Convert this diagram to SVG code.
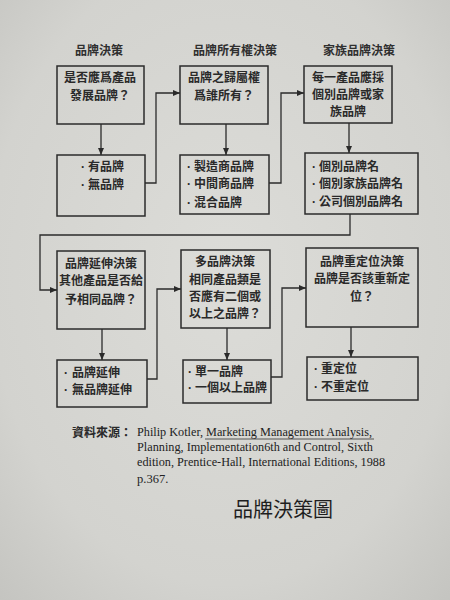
<svg xmlns="http://www.w3.org/2000/svg" width="450" height="600" viewBox="0 0 450 600">
<defs>
<marker id="arr" markerUnits="userSpaceOnUse" markerWidth="7" markerHeight="6" refX="7" refY="3" orient="auto">
<path d="M0,0 L7,3 L0,6 z" fill="#2a2a2a"/>
</marker>
<radialGradient id="bg" cx="50%" cy="45%" r="75%">
<stop offset="0" stop-color="#dcdcd8"/>
<stop offset="0.7" stop-color="#d3d3cf"/>
<stop offset="1" stop-color="#c4c4c0"/>
</radialGradient>
</defs>
<style>
.box{fill:none;stroke:#2b2b2b;stroke-width:1.5}
.cn{fill:none;stroke:#2b2b2b;stroke-width:1.3}
.t{font-family:"Noto Sans CJK TC","Noto Sans CJK SC",sans-serif;font-size:12px;font-weight:bold;fill:#2a2a2a}
.c{text-anchor:middle}
.d{font-family:"Liberation Sans",sans-serif;font-size:12px;font-weight:bold;fill:#2a2a2a}
.h{font-family:"Noto Sans CJK TC","Noto Sans CJK SC",sans-serif;font-size:12px;font-weight:bold;fill:#2f2f2f;text-anchor:middle}
.en{font-family:"Liberation Serif",serif;font-size:12.5px;fill:#222}
.src{font-family:"Noto Sans CJK TC","Noto Sans CJK SC",sans-serif;font-size:12px;font-weight:bold;fill:#2a2a2a}
.title{font-family:"Noto Sans CJK TC","Noto Sans CJK SC",sans-serif;font-size:20px;fill:#1e1e1e}
</style>
<rect x="0" y="0" width="450" height="600" fill="url(#bg)"/>

<g id="headers">
<text class="h" x="99" y="55">品牌決策</text>
<text class="h" x="235" y="55">品牌所有權決策</text>
<text class="h" x="359" y="55">家族品牌決策</text>
</g>

<g id="A1"><rect class="box" x="57" y="66" width="87" height="58"/>
<text class="t c" x="100" y="82">是否應爲產品</text>
<text class="t c" x="100" y="100">發展品牌？</text></g>
<g id="A2"><rect class="box" x="57" y="155" width="88" height="61"/>
<text class="d" x="81" y="171">·</text><text class="t" x="88" y="171">有品牌</text>
<text class="d" x="81" y="189">·</text><text class="t" x="88" y="189">無品牌</text></g>

<g id="B1"><rect class="box" x="180" y="66" width="88" height="58"/>
<text class="t c" x="224" y="82">品牌之歸屬權</text>
<text class="t c" x="224" y="100">爲誰所有？</text></g>
<g id="B2"><rect class="box" x="180" y="155" width="89" height="59"/>
<text class="d" x="187" y="171">·</text><text class="t" x="194" y="171">製造商品牌</text>
<text class="d" x="187" y="188">·</text><text class="t" x="194" y="188">中間商品牌</text>
<text class="d" x="187" y="207">·</text><text class="t" x="194" y="207">混合品牌</text></g>

<g id="C1"><rect class="box" x="304" y="66" width="88" height="57"/>
<text class="t c" x="348" y="82">每一產品應採</text>
<text class="t c" x="348" y="99">個別品牌或家</text>
<text class="t c" x="348" y="116">族品牌</text></g>
<g id="C2"><rect class="box" x="305" y="153" width="113" height="61"/>
<text class="d" x="312" y="171">·</text><text class="t" x="319" y="171">個別品牌名</text>
<text class="d" x="312" y="188">·</text><text class="t" x="319" y="188">個別家族品牌名</text>
<text class="d" x="312" y="206">·</text><text class="t" x="319" y="206">公司個別品牌名</text></g>

<g id="D1"><rect class="box" x="57" y="251" width="88" height="78"/>
<text class="t c" x="101" y="268">品牌延伸決策</text>
<text class="t c" x="101" y="285">其他產品是否給</text>
<text class="t c" x="101" y="304">予相同品牌？</text></g>
<g id="D2"><rect class="box" x="57" y="360" width="90" height="47"/>
<text class="d" x="64" y="377">·</text><text class="t" x="72" y="377">品牌延伸</text>
<text class="d" x="64" y="394">·</text><text class="t" x="72" y="394">無品牌延伸</text></g>

<g id="E1"><rect class="box" x="181" y="250" width="89" height="78"/>
<text class="t c" x="225" y="266">多品牌決策</text>
<text class="t c" x="225" y="284">相同產品類是</text>
<text class="t c" x="225" y="301">否應有二個或</text>
<text class="t c" x="225" y="318">以上之品牌？</text></g>
<g id="E2"><rect class="box" x="183" y="360" width="88" height="43"/>
<text class="d" x="188" y="376">·</text><text class="t" x="195" y="376">單一品牌</text>
<text class="d" x="188" y="392">·</text><text class="t" x="195" y="392">一個以上品牌</text></g>

<g id="F1"><rect class="box" x="306" y="248" width="112" height="79"/>
<text class="t c" x="362" y="266">品牌重定位決策</text>
<text class="t c" x="362" y="283">品牌是否該重新定</text>
<text class="t c" x="362" y="301">位？</text></g>
<g id="F2"><rect class="box" x="307" y="357" width="111" height="43"/>
<text class="d" x="314" y="373">·</text><text class="t" x="321" y="373">重定位</text>
<text class="d" x="314" y="391">·</text><text class="t" x="321" y="391">不重定位</text></g>

<g id="connectors">
<path class="cn" d="M101,124 V155" marker-end="url(#arr)"/>
<path class="cn" d="M145,183 H156 V93 H180" marker-end="url(#arr)"/>
<path class="cn" d="M226,124 V155" marker-end="url(#arr)"/>
<path class="cn" d="M269,183 H281 V93 H304" marker-end="url(#arr)"/>
<path class="cn" d="M349,123 V153" marker-end="url(#arr)"/>
<path class="cn" d="M350,214 V235 H40 V290 H57" marker-end="url(#arr)"/>
<path class="cn" d="M102,329 V360" marker-end="url(#arr)"/>
<path class="cn" d="M147,379 H157 V289 H181" marker-end="url(#arr)"/>
<path class="cn" d="M227,328 V360" marker-end="url(#arr)"/>
<path class="cn" d="M271,377 H282 V288 H306" marker-end="url(#arr)"/>
<path class="cn" d="M351,327 V357" marker-end="url(#arr)"/>
</g>

<g id="source">
<text class="src" x="72" y="437">資料來源：</text>
<text class="en" x="137" y="436" textLength="235" lengthAdjust="spacingAndGlyphs">Philip Kotler, Marketing Management Analysis,</text>
<line x1="205" y1="439" x2="374" y2="439" stroke="#333" stroke-width="0.8"/>
<text class="en" x="137" y="451" textLength="236" lengthAdjust="spacingAndGlyphs">Planning, Implementation6th and Control, Sixth</text>
<text class="en" x="137" y="466" textLength="248" lengthAdjust="spacingAndGlyphs">edition, Prentice-Hall, International Editions, 1988</text>
<text class="en" x="137" y="483">p.367.</text>
</g>

<text class="title" x="233" y="517" textLength="100" lengthAdjust="spacingAndGlyphs">品牌決策圖</text>
</svg>
